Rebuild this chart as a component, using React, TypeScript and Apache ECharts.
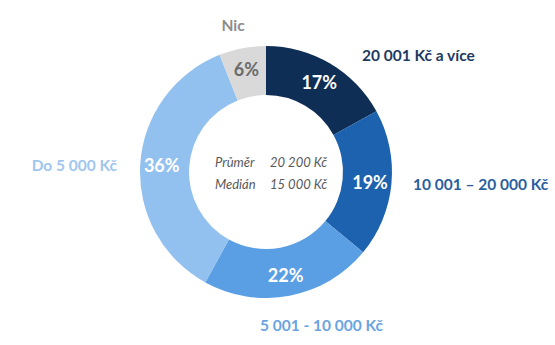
import React, { useEffect, useRef } from "react";
import * as echarts from "echarts";

const categories = ["20 001 Kč a více", "10 001 – 20 000 Kč", "5 001 - 10 000 Kč", "Do 5 000 Kč", "Nic"];
const shares = [17, 19, 22, 36, 6];
const sliceColors = ["#0f2e56", "#1d62ae", "#5a9ee3", "#93c1ef", "#d9d9d9"];
const percentColors = ["#ffffff", "#ffffff", "#ffffff", "#ffffff", "#6b6b6b"];
const nameColors = ["#1d3a60", "#2a5e9d", "#6ba4e0", "#9fc6ee", "#8c8c8c"];
const nameAnchors: [number, number, string][] = [
  [362, 55, "left"],
  [413, 184, "left"],
  [260, 325, "left"],
  [117, 165, "right"],
  [233, 25, "center"],
];
const statLabels = ["Průměr", "Medián"];
const statValues = ["20 200 Kč", "15 000 Kč"];

export default function App() {
  const ref = useRef<HTMLDivElement>(null);
  useEffect(() => {
    if (!ref.current) return;
    const chart = echarts.init(ref.current, null, { renderer: "svg" });
    const font = "Lato, 'Open Sans', sans-serif";
    chart.setOption({
      animation: false,
      backgroundColor: "#ffffff",
      series: [
        {
          type: "pie",
          center: [266, 172],
          radius: [77, 126],
          startAngle: 90,
          clockwise: true,
          silent: true,
          label: {
            show: true,
            position: "inside",
            fontFamily: font,
            fontWeight: "bold",
            fontSize: 18,
            formatter: (p: any) => p.value + "%",
          },
          labelLine: { show: false },
          itemStyle: { borderWidth: 0 },
          data: categories.map((c, i) => ({
            name: c,
            value: shares[i],
            itemStyle: { color: sliceColors[i] },
            label: { color: percentColors[i] },
          })),
        },
      ],
      graphic: [
        ...categories.map((c, i) => ({
          type: "text",
          x: nameAnchors[i][0],
          y: nameAnchors[i][1],
          style: {
            text: c,
            fill: nameColors[i],
            font: `bold 15.5px ${font}`,
            textAlign: nameAnchors[i][2],
            textVerticalAlign: "middle",
          },
        })),
        ...statLabels.map((s, i) => ({
          type: "text",
          x: 215,
          y: 162 + i * 22,
          style: {
            text: s,
            fill: "#595959",
            font: `italic 13px ${font}`,
            textAlign: "left",
            textVerticalAlign: "middle",
          },
        })),
        ...statValues.map((s, i) => ({
          type: "text",
          x: 270,
          y: 162 + i * 22,
          style: {
            text: s,
            fill: "#595959",
            font: `italic 13px ${font}`,
            textAlign: "left",
            textVerticalAlign: "middle",
          },
        })),
      ],
    });
    return () => chart.dispose();
  }, []);
  return (
    <div
      ref={ref}
      style={{ position: "fixed", left: 0, top: 0, width: 555, height: 345 }}
    />
  );
}
